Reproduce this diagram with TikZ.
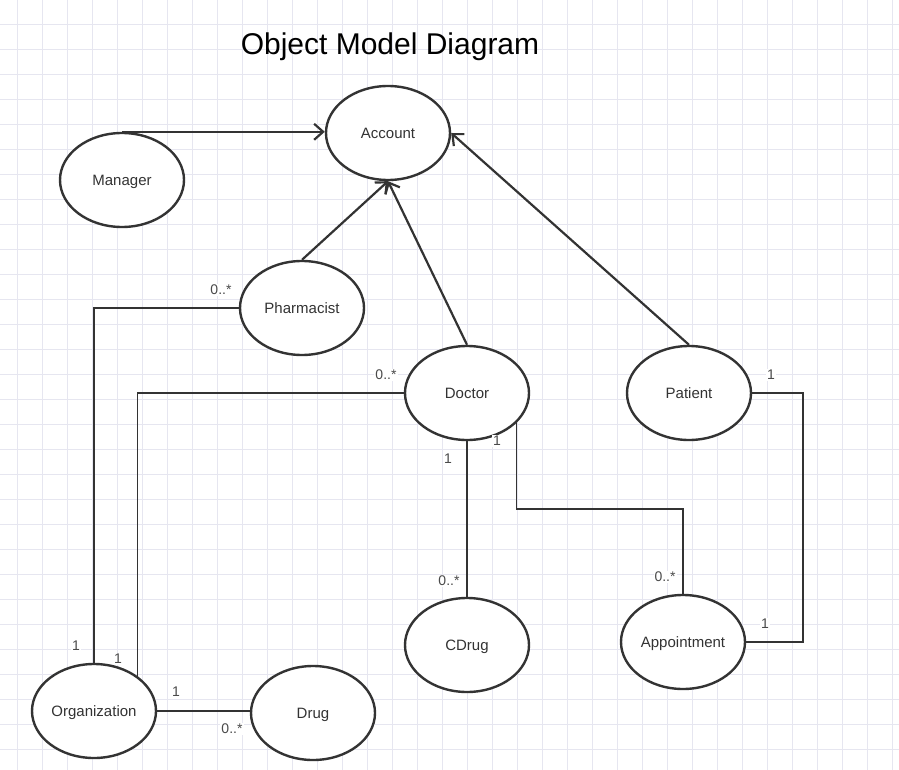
\documentclass[tikz,border=0pt]{standalone}
\usepackage{fontspec}
\setmainfont{Liberation Sans}
\usepackage{xcolor}
\usepackage{tikz}
\usetikzlibrary{arrows.meta, positioning, shapes.geometric, calc}

\definecolor{gridcol}{HTML}{E6E6F0}
\definecolor{inkcol}{HTML}{333333}
\definecolor{multcol}{HTML}{4A4A4A}

\begin{document}
\begin{tikzpicture}[
  x=1pt, y=-1pt,
  object/.style={draw=inkcol, ellipse, line width=2.4pt, fill=white, minimum width=124pt, minimum height=94pt, inner sep=0pt, text height=10.5pt, text depth=0pt, font=\fontsize{15}{18}\selectfont, text=inkcol},
  inherit/.style={-{Straight Barb[length=9pt, width=16pt, line width=2.2pt]}, line width=2.2pt, draw=inkcol},
  assoc/.style={line width=1.6pt, draw=inkcol},
  mult/.style={font=\fontsize{14}{16}\selectfont, text=multcol, fill=white, inner sep=1pt},
  gridline/.style={gridcol, line width=0.6pt}
]
  \def\w{899}
  \def\h{770}
  \useasboundingbox (0,0) rectangle (\w,\h);
  \fill[white] (0,0) rectangle (\w,\h);

  % background grid
  \foreach \gx in {17.5,42.5,...,899} \draw[gridline] (\gx,0) -- (\gx,\h);
  \foreach \gy in {24,49,...,770} \draw[gridline] (0,\gy) -- (\w,\gy);

  \node[font=\fontsize{30}{35}\selectfont] (title) at (390,47) {Object Model Diagram};

  \node[object] (acc) at (388,133) {Account};
  \node[object] (man) at (122,180) {Manager};
  \node[object] (pharm) at (302,308) {Pharmacist};
  \node[object] (doc) at (467,393) {Doctor};
  \node[object] (pat) at (689,393) {Patient};
  \node[object] (cdrug) at (467,645) {CDrug};
  \node[object] (app) at (683,642) {Appointment};
  \node[object] (org) at (94,711) {Organization};
  \node[object] (drug) at (313,713) {Drug};

  \draw[inherit] (man.north) -- (man.north -| acc.west);
  \draw[inherit] (pharm.north) -- (acc.south);
  \draw[inherit] (doc.north) -- (acc.south);
  \draw[inherit] (pat.north) -- (acc.east);

  \draw[assoc] (pharm.west) -| (org.north);
  \draw[assoc] (doc.west) -| ([xshift=-1pt]org.north east);
  \draw[assoc] (doc.south) -- (cdrug.north);
  \draw[assoc] ([xshift=-1pt]doc.-30) -- ++(0,87) -| (app.north);
  \draw[assoc] (pat.east) -- ++(51,0) |- (app.east);
  \draw[assoc] (org.east) -- (org.east -| drug.west);

  \node[mult] (m1) at (221,290) {0..*};
  \node[mult] (m2) at (76,646) {1};
  \node[mult] (m3) at (386,375) {0..*};
  \node[mult] (m4) at (118,659) {1};
  \node[mult] (m5) at (448,459) {1};
  \node[mult] (m6) at (449,581) {0..*};
  \node[mult] (m7) at (497,441) {1};
  \node[mult] (m8) at (665,577) {0..*};
  \node[mult] (m9) at (771,375) {1};
  \node[mult] (m10) at (765,624) {1};
  \node[mult] (m11) at (176,692) {1};
  \node[mult] (m12) at (232,729) {0..*};
\end{tikzpicture}
\end{document}
